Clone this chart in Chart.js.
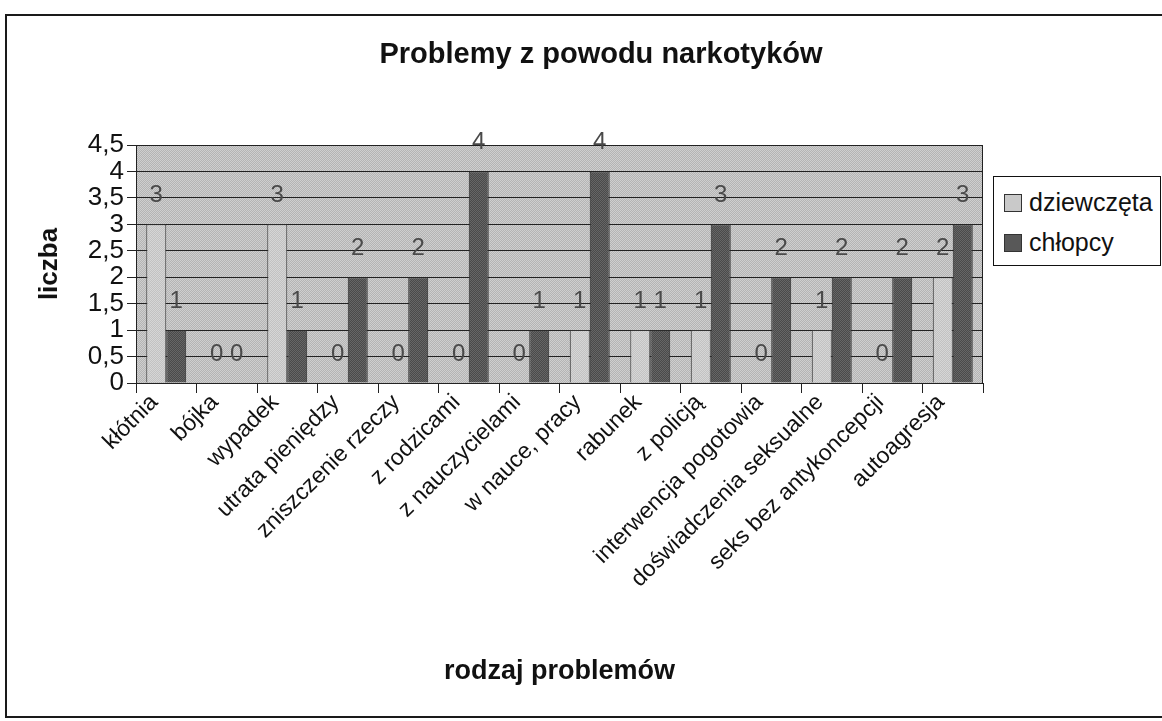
<!DOCTYPE html>
<html>
<head>
<meta charset="utf-8">
<script src="https://cdn.jsdelivr.net/npm/chart.js@4.4.1/dist/chart.umd.min.js"></script>
<style>
	body{ margin:0; background:#fff; font-family:"Liberation Sans", Arial, sans-serif; overflow:hidden; }
	#ramka{ position:absolute; left:5px; top:14px; width:1180px; height:700px; border:2px solid #1a1a1a; }
	#tytul{ position:absolute; left:301px; width:600px; top:37px; text-align:center; font-weight:bold; font-size:29px; color:#111; white-space:nowrap; }
	#legenda{ position:absolute; left:993px; top:176px; width:166px; height:88px; border:1px solid #111; background:#fff; }
	.poz{ position:absolute; left:10px; font-size:25px; color:#111; line-height:25px; }
	.kw{ display:inline-block; width:16px; height:16px; border:1px solid #333; margin-right:7px; vertical-align:-1px; }
	canvas{ position:absolute; left:0; top:0; }
</style>
</head>
<body>
<div id="ramka"></div>
<canvas id="wykres" width="1162" height="721"></canvas>
<div id="tytul">Problemy z powodu narkotyków</div>
<div id="legenda">
	<div class="poz" style="top:13px"><span class="kw" style="background:#c9c9c9"></span>dziewczęta</div>
	<div class="poz" style="top:53px"><span class="kw" style="background:#585858"></span>chłopcy</div>
</div>
<script>
/*dane*/
var kategorie = ["kłótnia", "bójka", "wypadek", "utrata pieniędzy", "zniszczenie rzeczy", "z rodzicami",
	"z nauczycielami", "w nauce, pracy", "rabunek", "z policją", "interwencja pogotowia",
	"doświadczenia seksualne", "seks bez antykoncepcji", "autoagresja"];
var dziewczeta = [3, 0, 3, 0, 0, 0, 0, 1, 1, 1, 0, 1, 0, 2];
var chlopcy = [1, 0, 1, 2, 2, 4, 1, 4, 1, 3, 2, 2, 2, 3];
var nazwySerii = ["dziewczęta", "chłopcy"];

var FONT = "'Liberation Sans', Arial, sans-serif";

/*small dithered pattern, looks like the scanned grey*/
function wzor(c1, c2){
	var p = document.createElement("canvas");
	p.width = 2; p.height = 2;
	var g = p.getContext("2d");
	g.fillStyle = c1; g.fillRect(0, 0, 2, 2);
	g.fillStyle = c2; g.fillRect(0, 0, 1, 1); g.fillRect(1, 1, 1, 1);
	return document.getElementById("wykres").getContext("2d").createPattern(p, "repeat");
}

var tloWykresu = {
	id: "tloWykresu",
	beforeDraw: function(chart){
		var a = chart.chartArea, ctx = chart.ctx;
		ctx.save();
		ctx.fillStyle = wzor("#b4b4b4", "#cfcfcf");
		ctx.fillRect(a.left, a.top, a.right - a.left, a.bottom - a.top);
		ctx.restore();
	},
	beforeDatasetsDraw: function(chart){
		var a = chart.chartArea, ctx = chart.ctx;
		ctx.save();
		ctx.strokeStyle = "#222";
		ctx.lineWidth = 1;
		ctx.strokeRect(a.left + 0.5, a.top + 0.5, a.right - a.left - 1, a.bottom - a.top);
		ctx.restore();
	}
};

/*values above bars*/
var etykiety = {
	id: "etykiety",
	afterDatasetsDraw: function(chart){
		var ctx = chart.ctx;
		ctx.save();
		ctx.font = "24px " + FONT;
		ctx.fillStyle = "#4a4a4a";
		ctx.textAlign = "center";
		ctx.textBaseline = "middle";
		chart.data.datasets.forEach(function(ds, i){
			chart.getDatasetMeta(i).data.forEach(function(bar, j){
				ctx.fillText(String(ds.data[j]), bar.x, bar.y - 29);
			});
		});
		ctx.restore();
	}
};

var dane = {
	labels: kategorie,
	datasets: [{
		label: nazwySerii[0],
		data: dziewczeta,
		backgroundColor: wzor("#c2c2c2", "#d6d6d6"),
		borderColor: "#333",
		borderWidth: 1
	}, {
		label: nazwySerii[1],
		data: chlopcy,
		backgroundColor: wzor("#4a4a4a", "#666666"),
		borderColor: "#2a2a2a",
		borderWidth: 1
	}]
};

new Chart(document.getElementById("wykres"), {
	type: "bar",
	data: dane,
	plugins: [tloWykresu, etykiety],
	options: {
		responsive: false,
		animation: false,
		devicePixelRatio: 1,
		layout: { padding: { left: 30, top: 145, right: 179, bottom: 28 } },
		datasets: { bar: { categoryPercentage: 0.66, barPercentage: 1 } },
		plugins: {
			legend: { display: false },
			title: { display: false },
			tooltip: { enabled: false }
		},
		scales: {
			x: {
				afterFit: function(s){ s.height = 721 - 28 - 383; },
				grid: { display: true, drawOnChartArea: false, drawTicks: true, tickLength: 10, color: "#222", offset: true },
				border: { display: true, color: "#222" },
				ticks: { autoSkip: false, minRotation: 45, maxRotation: 45, color: "#111", font: { family: FONT, size: 23 }, padding: -4, labelOffset: -12 },
				title: { display: true, text: "rodzaj problemów", color: "#111", font: { family: FONT, size: 27, weight: "bold" }, padding: { top: 4, bottom: 5 } }
			},
			y: {
				min: 0,
				max: 4.5,
				afterFit: function(s){ s.width = 136 - 30; },
				grid: { color: "#222", tickLength: 9, drawTicks: true },
				border: { display: true, color: "#222" },
				ticks: {
					stepSize: 0.5,
					autoSkip: false,
					color: "#111",
					padding: 3,
					font: { family: FONT, size: 26, lineHeight: 0.9 },
					callback: function(v){ return String(v).replace(".", ","); }
				},
				title: { display: true, text: "liczba", color: "#111", font: { family: FONT, size: 26, weight: "bold" }, padding: { top: 4, bottom: 4 } }
			}
		}
	}
});
</script>
</body>
</html>
